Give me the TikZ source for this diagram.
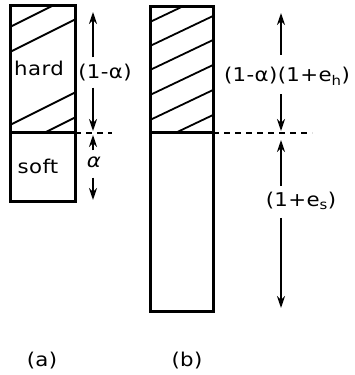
\documentclass[tikz,border=0pt]{standalone}
\usepackage{fontspec}
\setmainfont[FakeStretch=1.12,LetterSpace=2]{DejaVu Sans}
\usetikzlibrary{arrows.meta}

\begin{document}
\begin{tikzpicture}[x=1pt,y=1pt,
  box/.style={line width=3pt},
  hatch/.style={line width=1.8pt},
  dim/.style={-{Stealth[length=12pt,width=8pt]},line width=1.8pt},
  level/.style={dash pattern=on 6pt off 5pt,line width=1.8pt},
  lbl/.style={font=\fontsize{19}{22}\selectfont,inner sep=0pt}]

\useasboundingbox (0,0) rectangle (354,375);

% Sample (a): hatching, then outline
\begin{scope}
  \clip (10,242) rectangle (75,369);
  \foreach \c in {27,52,125,150}
    \draw[hatch] (10,375-\c) -- ++(65,32.5);
\end{scope}
\draw[box] (10,173) rectangle (75,369);
\draw[box] (10,242) -- (75,242);

% Sample (b): hatching, then outline
\begin{scope}
  \clip (150,242) rectangle (213,368);
  \foreach \c in {22,46,70,95,120,145}
    \draw[hatch] (150,375-\c) -- ++(63,30);
\end{scope}
\draw[box] (150,63) rectangle (213,368);
\draw[box] (150,242) -- (213,242);

% Interface levels
\coordinate (aedge) at (75,242);
\coordinate (aend) at (112,242);
\coordinate (bedge) at (213,242);
\coordinate (bend) at (312,242);
\draw[level] (aedge) -- (aend);
\draw[level] (bedge) -- (bend);

% Layer names
\node[lbl] (hard) at (39,307) {hard};
\node[lbl] (soft) at (38,209) {soft};

% Dimensions of (a)
\coordinate (ahtop) at (93,363);
\coordinate (ahbot) at (93,244);
\coordinate (astop) at (93,240);
\coordinate (asbot) at (93,175);
\node[lbl] (ahlab) at (105,302) {(1-α)};
\node[lbl] (aslab) at (94,213) {\itshape α};
\draw[dim,shorten <=7pt] (ahlab.north -| ahtop) -- (ahtop);
\draw[dim,shorten <=6pt] (ahlab.south -| ahbot) -- (ahbot);
\draw[dim,shorten <=6pt] (aslab.north -| astop) -- (astop);
\draw[dim,shorten <=10pt] (aslab.south -| asbot) -- (asbot);

% Dimensions of (b)
\coordinate (bhtop) at (281,362);
\coordinate (bhbot) at (281,244);
\coordinate (bstop) at (281,235);
\coordinate (bsbot) at (281,67);
\node[lbl] (bhlab) at (287,299) {(1-α)(1+e\textsubscript{h})};
\node[lbl] (bslab) at (301,174) {(1+e\textsubscript{s})};
\draw[dim,shorten <=12pt] (bhlab.north -| bhtop) -- (bhtop);
\draw[dim,shorten <=9pt] (bhlab.south -| bhbot) -- (bhbot);
\draw[dim,shorten <=6pt] (bslab.north -| bstop) -- (bstop);
\draw[dim,shorten <=8pt] (bslab.south -| bsbot) -- (bsbot);

% Captions
\node[lbl] (capa) at (42,14) {(a)};
\node[lbl] (capb) at (187,14) {(b)};

\end{tikzpicture}
\end{document}
